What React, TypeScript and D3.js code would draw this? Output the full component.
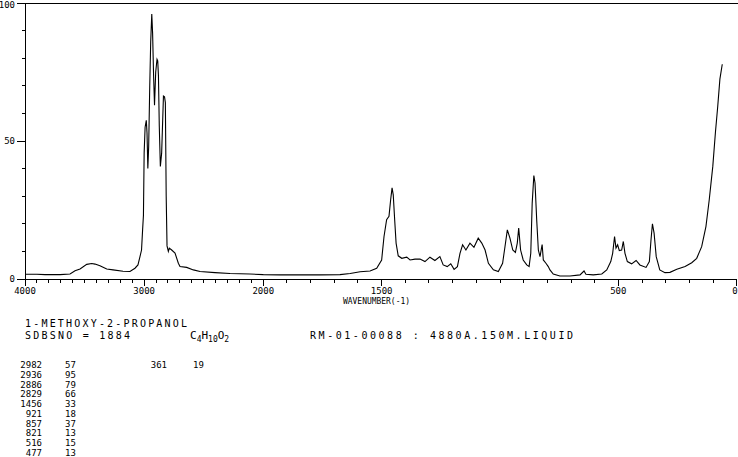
import React from "react";
import * as d3 from "d3";

const wavenumbers = [
  4000, 3900, 3832, 3706, 3622, 3580, 3538, 3482, 3440, 3412, 3371, 3314, 3261, 3177, 3119, 3077, 3052, 3035, 3022, 3013,
  3006, 3000, 2992, 2982, 2976, 2969, 2962, 2953, 2945, 2936, 2929, 2921, 2913, 2903, 2892, 2886, 2880, 2873, 2864, 2853,
  2838, 2829, 2822, 2815, 2808, 2797, 2789, 2769, 2741, 2713, 2699, 2643, 2587, 2531, 2405, 2279, 2112, 2000, 1930, 1845,
  1761, 1676, 1633, 1591, 1549, 1521, 1500, 1490, 1479, 1469, 1462, 1456, 1451, 1445, 1439, 1430, 1415, 1394, 1380, 1359,
  1338, 1317, 1296, 1275, 1254, 1240, 1223, 1208, 1194, 1180, 1169, 1158, 1144, 1127, 1110, 1092, 1077, 1063, 1049, 1028,
  1007, 989, 979, 969, 958, 946, 935, 927, 921, 913, 902, 887, 877, 870, 864, 857, 852, 845, 838, 831,
  822, 817, 806, 796, 789, 775, 747, 704, 662, 645, 637, 606, 570, 549, 532, 524, 516, 510, 503, 496,
  486, 479, 472, 462, 444, 425, 409, 383, 369, 362, 356, 349, 340, 325, 303, 282, 253, 218, 190, 169,
  148, 130, 116, 101, 90, 80, 71, 61,
];
const intensities = [
  1.7, 1.7, 1.6, 1.6, 1.8, 3.0, 3.6, 5.3, 5.6, 5.4, 4.8, 3.6, 3.3, 2.8, 2.7, 3.9, 5.1, 8.1, 10.5, 17.8,
  23, 45.7, 55, 57.5, 53, 40, 48, 70, 86, 96, 89, 74, 63, 75, 79.6, 79, 73.6, 55.4, 40.8, 45.7,
  66.3, 66, 63.9, 30, 12, 10, 11.2, 10.5, 9.4, 5.7, 4.5, 4.2, 3.3, 2.7, 2.3, 2.0, 1.8, 1.6, 1.5, 1.5,
  1.5, 1.6, 2.0, 2.6, 2.9, 3.9, 6.9, 15.4, 21.5, 22.7, 28.7, 33, 30.5, 21.5, 13, 8.4, 7.5, 7.9, 6.9, 7.2,
  7.2, 6.3, 7.9, 6.7, 8.1, 5.1, 4.5, 5.5, 3.5, 4.5, 9.3, 12.4, 10.5, 13, 11.5, 14.8, 13, 10.5, 5.7, 3.3,
  2.7, 5.7, 11.7, 17.8, 14.8, 10.5, 9.6, 13, 18.5, 10.5, 6.9, 5.1, 4.5, 9.3, 27.5, 37.5, 34.8, 21.5, 10.5, 8.1,
  12.5, 6.9, 5.7, 4.5, 3.3, 1.8, 1.1, 1.1, 1.5, 2.9, 1.7, 1.5, 1.8, 3.3, 6.3, 9.3, 15.4, 11.2, 12.4, 10.3,
  10.5, 13.6, 9.3, 6.3, 5.5, 6.7, 5.1, 4.2, 6.3, 14.2, 20, 16.6, 8.1, 3.3, 2.3, 2.4, 3.5, 4.5, 5.9, 7.5,
  11.7, 19, 28.7, 40.8, 53, 62.7, 72.4, 77.8,
];

const xMajorLabels = [4000, 3000, 2000, 1500, 500, 0];
const yMajorLabels = [0, 50, 100];
const xAxisTitle = "WAVENUMBER(-1)";
const compoundName = "1-METHOXY-2-PROPANOL";
const sdbsLine = "SDBSNO = 1884";
const measureLine = "RM-01-00088 : 4880A.150M.LIQUID";
const peakWavenumbers = ["2982", "2936", "2886", "2829", "1456", "921", "857", "821", "516", "477"];
const peakValues = ["57", "95", "79", "66", "33", "18", "37", "13", "15", "13"];
const peakWavenumbers2 = ["361"];
const peakValues2 = ["19"];

const MONO = "'DejaVu Sans Mono', 'Liberation Mono', monospace";

export default function App() {
  const x = d3.scaleLinear().domain([4000, 2000, 0]).range([25, 263.3, 736.7]);
  const y = d3.scaleLinear().domain([0, 100]).range([279, 3]);
  const pts = wavenumbers.map((w, i) => [w, intensities[i]] as [number, number]);
  const line = d3
    .line<[number, number]>()
    .x((d) => x(d[0]))
    .y((d) => y(d[1]));
  const xTicks = d3.range(0, 4001, 100);
  const yTicks = d3.range(0, 101, 10);

  return (
    <svg
      width={738}
      height={457}
      style={{ position: "absolute", left: 0, top: 0, background: "#fff" }}
      fontFamily={MONO}
    >
      <rect x={0} y={0} width={738} height={457} fill="#fff" />
      {/* frame */}
      <line x1={25} x2={738} y1={y(100)} y2={y(100)} stroke="#000" strokeWidth={1} shapeRendering="crispEdges" />
      <line x1={25} x2={25} y1={y(100)} y2={y(0)} stroke="#000" strokeWidth={1} shapeRendering="crispEdges" />
      <line x1={25} x2={x(0)} y1={y(0)} y2={y(0)} stroke="#000" strokeWidth={1} shapeRendering="crispEdges" />
      {/* x ticks */}
      {xTicks.map((t) => {
        const major = xMajorLabels.includes(t);
        return (
          <line
            key={"xt" + t}
            x1={x(t)}
            x2={x(t)}
            y1={y(0)}
            y2={y(0) + (major ? 7 : 3.5)}
            stroke="#000"
            strokeWidth={1}
            shapeRendering="crispEdges"
          />
        );
      })}
      {xMajorLabels.map((t) => (
        <text
          key={"xl" + t}
          x={t === 0 ? x(t) + 1 : x(t)}
          y={294}
          fontSize={9}
          textAnchor={t === 0 ? "end" : "middle"}
          fill="#000"
        >
          {String(t)}
        </text>
      ))}
      <text x={343} y={304} fontSize={8} textLength={67} lengthAdjust="spacingAndGlyphs" fill="#000">
        {xAxisTitle}
      </text>
      {/* y ticks */}
      {yTicks.map((t) => {
        const major = yMajorLabels.includes(t);
        return (
          <line
            key={"yt" + t}
            x1={major ? 17 : 22}
            x2={25}
            y1={y(t)}
            y2={y(t)}
            stroke="#000"
            strokeWidth={1}
            shapeRendering="crispEdges"
          />
        );
      })}
      {yMajorLabels.map((t) => (
        <text
          key={"yl" + t}
          x={15}
          y={t === 100 ? y(t) + 4.5 : y(t) + 3.2}
          fontSize={9}
          textAnchor="end"
          fill="#000"
        >
          {String(t)}
        </text>
      ))}
      {/* spectrum */}
      <path d={line(pts) || ""} fill="none" stroke="#000" strokeWidth={1.1} />
      {/* header text */}
      <text x={25} y={327} fontSize={10} textLength={162} lengthAdjust="spacing" fill="#000">
        {compoundName}
      </text>
      <text x={25} y={339} fontSize={10} textLength={105} lengthAdjust="spacing" fill="#000">
        {sdbsLine}
      </text>
      <text x={190} y={339} fontSize={11} fill="#000">
        <tspan>C</tspan>
        <tspan fontSize={8} dy={2.5}>4</tspan>
        <tspan dy={-2.5}>H</tspan>
        <tspan fontSize={8} dy={2.5}>10</tspan>
        <tspan dy={-2.5}>O</tspan>
        <tspan fontSize={8} dy={2.5}>2</tspan>
      </text>
      <text x={310} y={339} fontSize={10} textLength={263} lengthAdjust="spacing" fill="#000">
        {measureLine}
      </text>
      {/* peak table */}
      {peakWavenumbers.map((w, i) => (
        <g key={"pk" + i}>
          <text x={42} y={368 + i * 9.78} fontSize={9} textAnchor="end" fill="#000">
            {w}
          </text>
          <text x={65} y={368 + i * 9.78} fontSize={9} fill="#000">
            {peakValues[i]}
          </text>
        </g>
      ))}
      {peakWavenumbers2.map((w, i) => (
        <g key={"pk2" + i}>
          <text x={167} y={368 + i * 9.78} fontSize={9} textAnchor="end" fill="#000">
            {w}
          </text>
          <text x={193} y={368 + i * 9.78} fontSize={9} fill="#000">
            {peakValues2[i]}
          </text>
        </g>
      ))}
    </svg>
  );
}
